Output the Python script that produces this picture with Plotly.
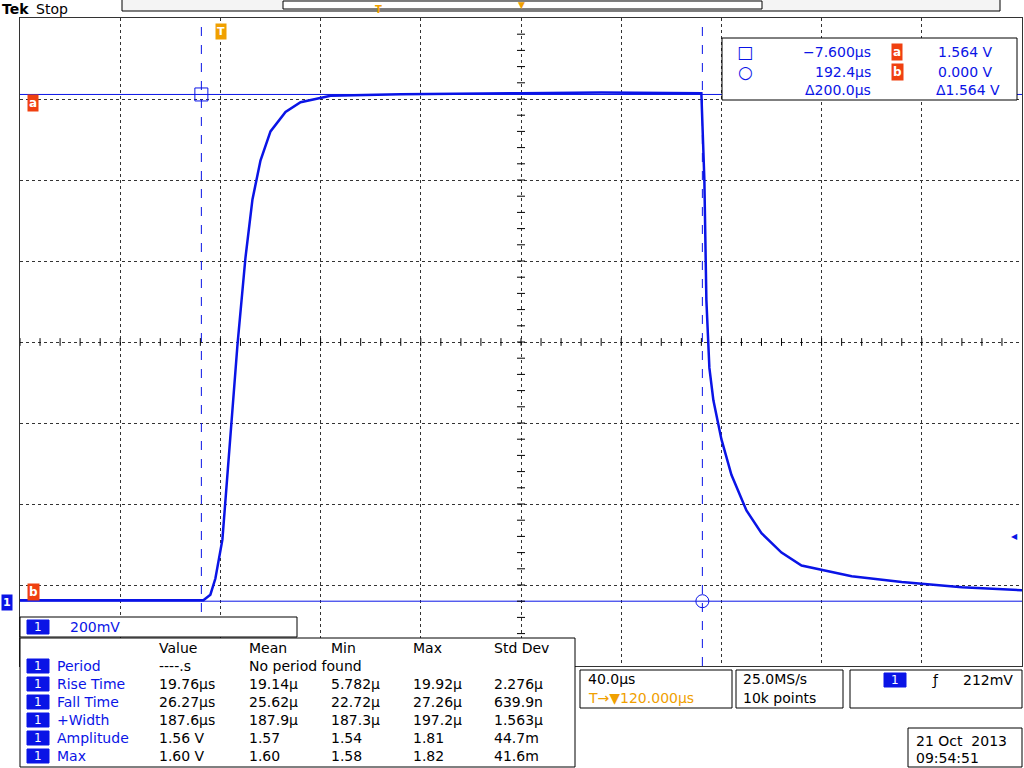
import plotly.graph_objects as go

# ---- data ----
t_us = [-80, -6.8, -4, -2, 0.8, 4, 6.8, 10, 12.8, 16, 20, 26, 32, 44, 72, 120, 152, 192,
        193.2, 194, 195.2, 196.8, 200, 204, 210, 216, 224, 232, 252, 272, 296, 320]
volts = [0.003, 0.003, 0.02, 0.07, 0.19, 0.5, 0.79, 1.06, 1.24, 1.36, 1.45, 1.51, 1.54, 1.56,
         1.565, 1.568, 1.57, 1.568, 1.30, 0.93, 0.72, 0.62, 0.5, 0.39, 0.28, 0.21, 0.15, 0.11,
         0.077, 0.059, 0.043, 0.034]
cursor_t = [-7.6, 192.4]
cursor_v = [1.564, 0.0]
meas_header = ["Value", "Mean", "Min", "Max", "Std Dev"]
meas_names = ["Period", "Rise Time", "Fall Time", "+Width", "Amplitude", "Max"]
meas_rows = [
    ["----.s", "No period found", "", "", ""],
    ["19.76µs", "19.14µ", "5.782µ", "19.92µ", "2.276µ"],
    ["26.27µs", "25.62µ", "22.72µ", "27.26µ", "639.9n"],
    ["187.6µs", "187.9µ", "187.3µ", "197.2µ", "1.563µ"],
    ["1.56 V", "1.57", "1.54", "1.81", "44.7m"],
    ["1.60 V", "1.60", "1.58", "1.82", "41.6m"],
]

W, H = 1024, 768
BLUE = "#0a14e6"
ORANGE = "#f0a000"
RED = "#f04010"
FONT = "DejaVu Sans"

def px(x): return x / W
def py(y): return 1 - y / H

fig = go.Figure()
fig.add_trace(go.Scatter(x=t_us, y=volts, mode="lines", line=dict(color=BLUE, width=2.5), hoverinfo="skip"))
fig.add_trace(go.Scatter(x=[cursor_t[0]], y=[cursor_v[0]], mode="markers",
                         marker=dict(symbol="square-open", size=13, color=BLUE, line=dict(width=1))))
fig.add_trace(go.Scatter(x=[cursor_t[1]], y=[cursor_v[1]], mode="markers",
                         marker=dict(symbol="circle-open", size=13, color=BLUE, line=dict(width=1))))

shapes, ann = [], []
for t in cursor_t:
    shapes.append(dict(type="line", xref="x", yref="paper", x0=t, x1=t, y0=py(666), y1=py(18),
                       line=dict(color=BLUE, width=1, dash="dash")))
for v in cursor_v:
    shapes.append(dict(type="line", xref="paper", yref="y", x0=px(20), x1=px(1022), y0=v, y1=v,
                       line=dict(color=BLUE, width=1)))
for i in range(50):
    tx = -80 + i * 8
    shapes.append(dict(type="line", xref="x", yref="y", x0=tx, x1=tx, y0=0.8-0.012, y1=0.8+0.012,
                       line=dict(color="black", width=1)))
for i in range(40):
    vy = -0.2 + i * 0.05
    shapes.append(dict(type="line", xref="x", yref="y", x0=120-1.6, x1=120+1.6, y0=vy, y1=vy,
                       line=dict(color="black", width=1)))

def box(x0, y0, x1, y1, color="black", fill="white"):
    shapes.append(dict(type="rect", xref="paper", yref="paper", x0=px(x0), x1=px(x1),
                       y0=py(y1), y1=py(y0), line=dict(color=color, width=1), fillcolor=fill, layer="above"))

def txt(x, y, s, color="black", size=14, anchor="left", bold=False, bg=None):
    ann.append(dict(xref="paper", yref="paper", x=px(x), y=py(y), text=("<b>%s</b>" % s) if bold else s,
                    showarrow=False, xanchor=anchor, yanchor="middle",
                    font=dict(family=FONT, size=size, color=color), bgcolor=bg))

def pill(x, y, s="1"):
    shapes.append(dict(type="rect", xref="paper", yref="paper", x0=px(x-11), x1=px(x+11),
                       y0=py(y+7), y1=py(y-7), line=dict(color=BLUE, width=1), fillcolor=BLUE, layer="above"))
    txt(x, y, s, color="white", size=12, anchor="center")

txt(0, 9, "Tek", bold=True, size=14)
txt(34, 9, "Stop", size=14)
box(122, -1, 1000, 11, fill="#f4f4f4")
box(283, 1, 762, 9, fill="white")
txt(378, 9, "T", color=ORANGE, size=10, anchor="center", bold=True)
txt(521, 5, "▼", color=ORANGE, size=9, anchor="center")
txt(221, 31, "T", color="white", size=11, anchor="center", bold=True, bg=ORANGE)
txt(33, 103, "a", color="white", size=12, anchor="center", bold=True, bg=RED)
txt(33, 592, "b", color="white", size=12, anchor="center", bold=True, bg=RED)
txt(7, 602, "1", color="white", size=11, anchor="center", bold=True, bg=BLUE)
txt(1014, 536, "◀", color=BLUE, size=8, anchor="center")

box(722, 38, 1017, 100)
txt(745, 52, "□", color=BLUE, size=17, anchor="center")
txt(745, 72, "○", color=BLUE, size=17, anchor="center")
txt(873, 52, "−7.600µs", color=BLUE, anchor="right")
txt(873, 72, "192.4µs", color=BLUE, anchor="right")
txt(873, 90, "Δ200.0µs", color=BLUE, anchor="right")
txt(897, 52, "a", color="white", size=12, anchor="center", bold=True, bg=RED)
txt(897, 72, "b", color="white", size=12, anchor="center", bold=True, bg=RED)
txt(995, 52, "%.3f V" % cursor_v[0], color=BLUE, anchor="right")
txt(995, 72, "%.3f V" % cursor_v[1], color=BLUE, anchor="right")
txt(1002, 90, "Δ1.564 V", color=BLUE, anchor="right")

box(20, 617, 297, 637)
pill(38, 627)
txt(68, 627, "200mV", color=BLUE)

box(20, 638, 575, 767)
colx = [157, 247, 329, 411, 492]
for cx, h in zip(colx, meas_header):
    txt(cx, 648, h)
for i, (name, row) in enumerate(zip(meas_names, meas_rows)):
    y = 666 + 18 * i
    pill(38, y)
    txt(55, y, name, color=BLUE)
    for cx, v in zip(colx, row):
        if v:
            txt(cx, y, v)

box(580, 670, 732, 708)
txt(586, 679, "40.0µs")
txt(586, 698, "T→▼120.000µs", color=ORANGE)
box(736, 670, 843, 708)
txt(741, 679, "25.0MS/s")
txt(741, 698, "10k points")
box(850, 670, 1022, 708)
pill(895, 680)
txt(930, 680, "ƒ", size=14)
txt(1015, 680, "212mV", anchor="right")
box(908, 728, 1022, 767)
txt(914, 741, "21 Oct  2013")
txt(914, 758, "09:54:51")

fig.update_layout(
    width=W, height=H, margin=dict(l=0, r=0, t=0, b=0),
    paper_bgcolor="white", plot_bgcolor="white", showlegend=False,
    shapes=shapes, annotations=ann,
    xaxis=dict(domain=[px(20), px(1022)], range=[-80, 320], dtick=40, tick0=-80,
               showticklabels=False, ticks="", zeroline=False,
               showgrid=True, gridcolor="#333", griddash="dot", gridwidth=1,
               showline=True, linecolor="#333", mirror=True),
    yaxis=dict(domain=[py(666), py(18)], range=[-0.2, 1.8], dtick=0.25, tick0=-0.2,
               showticklabels=False, ticks="", zeroline=False,
               showgrid=True, gridcolor="#333", griddash="dot", gridwidth=1,
               showline=True, linecolor="#333", mirror=True),
)
fig.write_html("out.html", config={"displayModeBar": False},
               post_script="document.body.style.margin='0';document.body.style.overflow='hidden';")
